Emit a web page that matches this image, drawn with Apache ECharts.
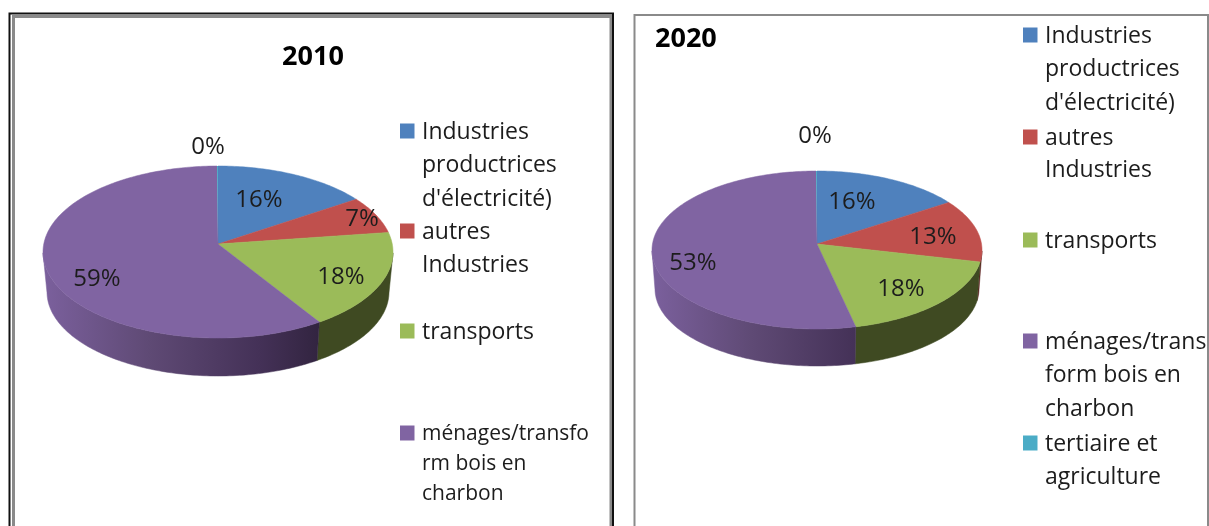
<!DOCTYPE html>
<html>
<head>
<meta charset="utf-8">
<style>html,body{margin:0;padding:0;background:#fff}#c{width:1209px;height:526px}</style>
<script src="https://cdn.jsdelivr.net/npm/echarts@6/dist/echarts.min.js"></script>
</head>
<body>
<div id="c"></div>
<script>
const categories = ["Industries productrices d'électricité)", "autres Industries", "transports", "ménages/transform bois en charbon", "tertiaire et agriculture"];
const values2010 = [15.7, 7.1, 18.2, 58.9, 0.1];
const values2020 = [15.7, 12.9, 17.9, 53.4, 0.1];
const titles = ["2010", "2020"];
const legendLines2010 = ["Industries\nproductrices\nd'électricité)", "autres\nIndustries", "transports", "ménages/transfo\nrm bois en\ncharbon"];
const legendLines2020 = ["Industries\nproductrices\nd'électricité)", "autres\nIndustries", "transports", "ménages/trans\nform bois en\ncharbon", "tertiaire et\nagriculture"];

const FONT = '"Open Sans", "Noto Sans", sans-serif';
const TEXT = '#1c1c1c';
const topColors = ['#4f81bd', '#c0504d', '#9bbb59', '#8064a2', '#4bacc6'];

function wallFill(i, g) {
  if (i === 3) {
    return new echarts.graphic.LinearGradient(g.cx - g.rx, 0, g.cx + g.rx, 0, [
      {offset: 0, color: '#7b609d'}, {offset: 0.3, color: '#5f4a75'},
      {offset: 0.62, color: '#443157'}, {offset: 0.79, color: '#322440'}, {offset: 1, color: '#2a1c36'}
    ], true);
  }
  return ['#2c4263', '#5c2321', '#3f4a22', '#000', '#1f5566'][i];
}

// Layout of each 3D pie: ellipse of the top face, apex offset (perspective), lower rim of the wall.
const geo2010 = {
  cx: 218, my: 252, rx: 175, ry: 86, apexY: 244, wcx: 218, wmy: 292, wrx: 171, wry: 84,
  labels: [[259, 200], [362, 219], [341, 277], [97, 279], [208, 147]]
};
const geo2020 = {
  cx: 817, my: 250, rx: 165, ry: 79, apexY: 244, wcx: 817, wmy: 289, wrx: 162, wry: 77,
  labels: [[852, 202], [933, 237], [901, 289], [693, 263], [815, 136]]
};

function pieSeries(name, values, g) {
  const total = values.reduce((a, b) => a + b, 0);
  const p = (g.apexY - g.my) / g.ry;
  const q = Math.sqrt(1 - p * p);
  const unit = t => {
    const x = Math.sin(t), y = -Math.cos(t), k = 1 + p * y;
    return [x * q / k, (y + p) / k];
  };
  const samples = (a, b) => {
    const out = [], n = Math.max(1, Math.ceil((b - a) / (Math.PI / 180)));
    for (let j = 0; j <= n; j++) out.push(unit(a + (b - a) * j / n));
    return out;
  };
  return {
    type: 'custom', name, coordinateSystem: 'none', silent: true, animation: false,
    data: values.map((v, i) => ({name: categories[i], value: v})),
    renderItem(params, api) {
      const i = params.dataIndex;
      const before = values.slice(0, i).reduce((a, b) => a + b, 0);
      const a = before / total * 2 * Math.PI;
      const b = (before + values[i]) / total * 2 * Math.PI;
      const children = [];
      const arc = samples(a, b);
      const front = arc.filter(u => u[1] >= 0);
      if (front.length > 1) {
        const fill = wallFill(i, g);
        const poly = front.map(u => [g.cx + g.rx * u[0], g.my + g.ry * u[1]])
          .concat(front.slice().reverse().map(u => [g.wcx + g.wrx * u[0], g.wmy + g.wry * u[1]]));
        children.push({type: 'polygon', shape: {points: poly}, style: {fill, stroke: fill, lineWidth: 0.5}});
      }
      const face = [[g.cx, g.apexY]].concat(arc.map(u => [g.cx + g.rx * u[0], g.my + g.ry * u[1]]));
      const thin = values[i] < 1;
      children.push({type: 'polygon', shape: {points: face}, style: {fill: topColors[i], stroke: thin ? null : topColors[i], lineWidth: 0.5}});
      children.push({
        type: 'text', z2: 10,
        style: {
          text: Math.round(values[i]) + '%', x: g.labels[i][0], y: g.labels[i][1], align: 'center', verticalAlign: 'middle',
          font: '24px ' + FONT, fill: TEXT
        }
      });
      return {type: 'group', children};
    }
  };
}

function legendGraphic(lines, x, ys, lineH, sizes) {
  const out = [];
  lines.forEach((txt, i) => {
    out.push({type: 'rect', left: x, top: ys[i] - 7.5, shape: {width: 14.5, height: 15}, style: {fill: topColors[i]}, silent: true});
    txt.split('\n').forEach((r, k) => {
      out.push({type: 'text', x: x + 22, y: ys[i] + 1 + k * lineH[i], silent: true,
        style: {text: r, font: sizes[i] + 'px ' + FONT, fill: TEXT, align: 'left', verticalAlign: 'middle'}});
    });
  });
  return out;
}

function frame(x, y, w, h, stroke, lw) {
  return {type: 'rect', silent: true, shape: {x, y, width: w, height: h},
    style: {fill: 'none', stroke, lineWidth: lw}};
}

const graphicEls = [
  frame(13.5, 16.5, 597.5, 540, '#8a8a8a', 3),
  frame(9.5, 13.5, 603.5, 540, '#111', 2),
  frame(634.5, 15, 573.5, 540, '#8a8a8a', 2),
  {type: 'text', x: 313, y: 57, silent: true, style: {text: titles[0], font: 'bold 27px ' + FONT, fill: '#000', align: 'center', verticalAlign: 'middle'}},
  {type: 'text', x: 655, y: 39.5, silent: true, style: {text: titles[1], font: 'bold 27px ' + FONT, fill: '#000', align: 'left', verticalAlign: 'middle'}}
].concat(
  legendGraphic(legendLines2010, 400, [131, 231, 331, 433], [33.5, 33, 33, 30], [23, 23, 23, 21]),
  legendGraphic(legendLines2020, 1023, [35, 137, 240, 341, 443], [33.5, 32, 33, 33.5, 33], [23, 23, 23, 23, 23])
);

const chart = echarts.init(document.getElementById('c'), null, {renderer: 'canvas'});
chart.setOption({
  animation: false,
  backgroundColor: '#fff',
  graphic: {elements: graphicEls},
  series: [pieSeries(titles[0], values2010, geo2010), pieSeries(titles[1], values2020, geo2020)]
});
</script>
</body>
</html>
